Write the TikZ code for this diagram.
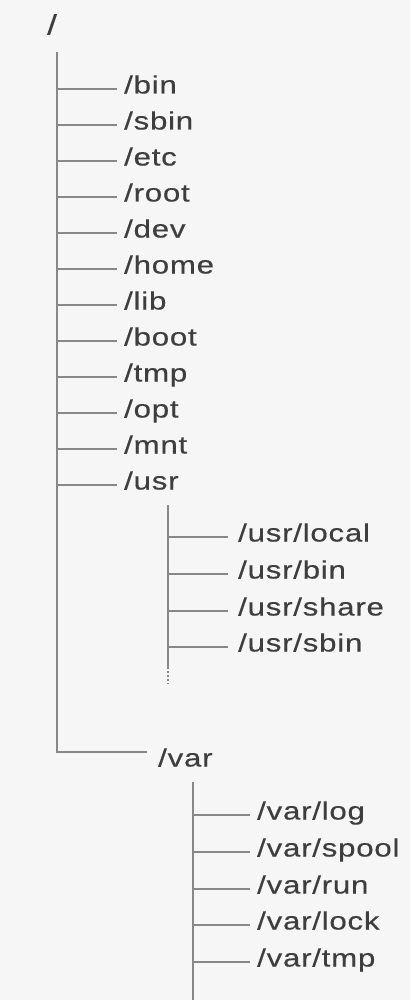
\documentclass[tikz,border=0pt]{standalone}
\usepackage{fontspec}
\setmainfont[FakeStretch=1.25,LetterSpace=3,FakeBold=0.4]{Liberation Sans}
\definecolor{treeline}{HTML}{888888}
\definecolor{treetext}{HTML}{3E3E3E}
\definecolor{paper}{HTML}{F6F6F6}

\begin{document}
\begin{tikzpicture}[x=1pt,y=-1pt]

        \fill[paper] (0,0) rectangle (410,1000);
        \useasboundingbox (0,0) rectangle (410,1000);

        \coordinate (top)     at (57,52);
        \coordinate (vend)    at (147,752);
        \coordinate (usrtop)  at (168,505);
        \coordinate (usrend)  at (168,667);
        \coordinate (usrfade) at (168,684);
        \coordinate (vartop)  at (193,782);
        \coordinate (varbot)  at (193,1000);

        \begin{scope}[every node/.style={anchor=west,inner xsep=7pt,inner ysep=0pt,
            text height=0.9em,text depth=0pt,text=treetext,
            font=\fontsize{25}{25}\selectfont}]
          \node[font=\fontsize{28}{28}\selectfont] (root) at (40,30) {/};
          \node (bin)   at (117,89)  {/bin};
          \node (sbin)  at (117,125) {/sbin};
          \node (etc)   at (117,161) {/etc};
          \node (rootd) at (117,197) {/root};
          \node (dev)   at (117,233) {/dev};
          \node (home)  at (117,269) {/home};
          \node (lib)   at (117,305) {/lib};
          \node (boot)  at (117,341) {/boot};
          \node (tmp)   at (117,377) {/tmp};
          \node (opt)   at (117,413) {/opt};
          \node (mnt)   at (117,449) {/mnt};
          \node (usr)   at (117,485) {/usr};
          \node (var)   at (151,762) {/var};

          \begin{scope}[every node/.append style={inner xsep=10pt}]
            \node (usrlocal) at (228,537) {/usr/local};
            \node (usrbin)   at (228,574) {/usr/bin};
            \node (usrshare) at (228,611) {/usr/share};
            \node (usrsbin)  at (228,647) {/usr/sbin};
          \end{scope}

          \node (varlog)   at (250,815) {/var/log};
          \node (varspool) at (250,852) {/var/spool};
          \node (varrun)   at (250,889) {/var/run};
          \node (varlock)  at (250,925) {/var/lock};
          \node (vartmp)   at (250,962) {/var/tmp};
        \end{scope}

        \begin{scope}[treeline,line width=2pt,every edge/.style={draw}]
          \draw (top) |- (vend);
          \path (bin -| top)   edge (bin);
          \path (sbin -| top)  edge (sbin);
          \path (etc -| top)   edge (etc);
          \path (rootd -| top) edge (rootd);
          \path (dev -| top)   edge (dev);
          \path (home -| top)  edge (home);
          \path (lib -| top)   edge (lib);
          \path (boot -| top)  edge (boot);
          \path (tmp -| top)   edge (tmp);
          \path (opt -| top)   edge (opt);
          \path (mnt -| top)   edge (mnt);
          \path (usr -| top)   edge (usr);

          \draw (usrtop) -- (usrend);
          \draw[dotted] (usrend) -- (usrfade);
          \path (usrlocal -| usrtop) edge (usrlocal);
          \path (usrbin -| usrtop)   edge (usrbin);
          \path (usrshare -| usrtop) edge (usrshare);
          \path (usrsbin -| usrtop)  edge (usrsbin);

          \draw (vartop) -- (varbot);
          \path (varlog -| vartop)   edge (varlog);
          \path (varspool -| vartop) edge (varspool);
          \path (varrun -| vartop)   edge (varrun);
          \path (varlock -| vartop)  edge (varlock);
          \path (vartmp -| vartop)   edge (vartmp);
        \end{scope}

      \end{tikzpicture}
\end{document}
